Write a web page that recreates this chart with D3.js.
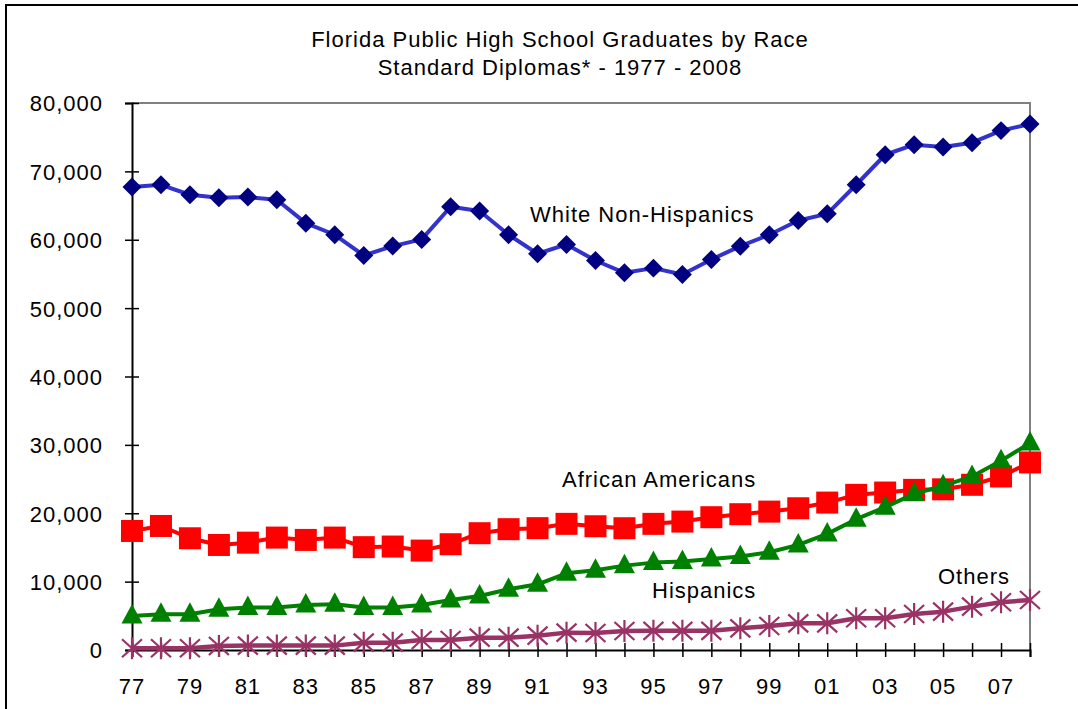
<!DOCTYPE html>
<html>
<head>
<meta charset="utf-8">
<script src="https://cdn.jsdelivr.net/npm/d3@7"></script>
<style>
  body { margin: 0; background: #fff; }
  text { font-family: "Liberation Sans", Arial, sans-serif; fill: #000; letter-spacing: 1px; }
</style>
</head>
<body>
<svg id="chart" width="1078" height="709"></svg>
<script>
// data
var years = d3.range(1977, 2009);
var white = [67700, 68040, 66580, 66140, 66240, 65850, 62430, 60730, 57700, 59070,
  60050, 64830, 64200, 60730, 57950, 59310, 56970, 55160, 55850, 54920,
  57110, 59060, 60730, 62820, 63790, 68040, 72430, 73900, 73560, 74200, 75960, 76930];
var african = [17410, 18140, 16340, 15360, 15700, 16440, 16100, 16440, 15040, 15130,
  14540, 15470, 17080, 17670, 17820, 18450, 18100, 17810, 18450, 18780,
  19420, 19860, 20240, 20730, 21560, 22690, 23030, 23420, 23500, 24160, 25380, 27430];
var hispanic = [4980, 5220, 5220, 5950, 6200, 6200, 6590, 6690, 6200, 6200,
  6590, 7320, 7900, 8880, 9610, 11220, 11650, 12340, 12780, 12930,
  13320, 13660, 14300, 15370, 16980, 19130, 20890, 22840, 24010, 25380, 27670, 30260];
var others = [250, 250, 250, 590, 640, 640, 640, 640, 1070, 1070,
  1460, 1460, 1800, 1800, 2100, 2540, 2490, 2780, 2800, 2800,
  2800, 3170, 3510, 3900, 3900, 4640, 4640, 5270, 5610, 6340, 6980, 7320];
var yTicks = [0, 10000, 20000, 30000, 40000, 50000, 60000, 70000, 80000];
var xLabelYears = d3.range(1977, 2009, 2);

var svg = d3.select("#chart");

// outer chart frame
svg.append("rect")
  .attr("x", 6).attr("y", 5)
  .attr("width", 1100).attr("height", 800)
  .attr("fill", "none").attr("stroke", "#000").attr("stroke-width", 2);

var plotLeft = 132, plotRight = 1030, plotTop = 103, plotBottom = 650;

var x = d3.scaleLinear().domain([1977, 2008]).range([plotLeft, plotRight]);
var y = d3.scaleLinear().domain([0, 80000]).range([plotBottom, plotTop]);

// title
svg.append("text").attr("x", 560).attr("y", 47)
  .attr("text-anchor", "middle").style("font-size", "22px")
  .text("Florida Public High School Graduates by Race");
svg.append("text").attr("x", 560).attr("y", 75)
  .attr("text-anchor", "middle").style("font-size", "22px")
  .text("Standard Diplomas* - 1977 - 2008");

// plot border (top and right in grey)
svg.append("path")
  .attr("d", "M" + plotLeft + "," + plotTop + "H" + plotRight + "V" + plotBottom)
  .attr("fill", "none").attr("stroke", "#808080").attr("stroke-width", 2);

// y axis
var yAxis = svg.append("g")
  .attr("transform", "translate(" + plotLeft + ",0)")
  .call(d3.axisLeft(y).tickValues(yTicks).tickFormat(d3.format(",")).tickSize(7).tickPadding(22));
yAxis.select(".domain").attr("stroke", "#000").attr("stroke-width", 2);
yAxis.selectAll(".tick line").attr("x1", 7).attr("stroke", "#000").attr("stroke-width", 1.5);
yAxis.selectAll(".tick text")
  .style("font-size", "22px").style("font-family", "'Liberation Sans', Arial, sans-serif")
  .attr("fill", "#000").attr("dy", "0.36em");

// x axis
var xAxis = svg.append("g")
  .attr("transform", "translate(0," + plotBottom + ")")
  .call(d3.axisBottom(x).tickValues(years).tickSize(7).tickFormat(""));
xAxis.select(".domain").attr("stroke", "#000").attr("stroke-width", 2);
xAxis.selectAll(".tick line").attr("y1", -7).attr("stroke", "#000").attr("stroke-width", 1.5);

svg.append("g").selectAll("text")
  .data(xLabelYears).enter().append("text")
  .attr("x", function (d) { return x(d); })
  .attr("y", 694)
  .attr("text-anchor", "middle")
  .style("font-size", "22px")
  .text(function (d) { return String(d).slice(2); });

var line = d3.line()
  .x(function (d, i) { return x(years[i]); })
  .y(function (d) { return y(d); });

function drawLine(values, color, width) {
  svg.append("path")
    .datum(values)
    .attr("d", line)
    .attr("fill", "none")
    .attr("stroke", color)
    .attr("stroke-width", width)
    .attr("stroke-linejoin", "round");
}

// White Non-Hispanics
drawLine(white, "#3333CC", 4);
svg.append("g").selectAll("path")
  .data(white).enter().append("path")
  .attr("d", d3.symbol().type(d3.symbolDiamond2).size(230))
  .attr("transform", function (d, i) { return "translate(" + x(years[i]) + "," + y(d) + ")"; })
  .attr("fill", "#000080");

// African Americans
drawLine(african, "#FF0000", 4);
svg.append("g").selectAll("rect")
  .data(african).enter().append("rect")
  .attr("x", function (d, i) { return x(years[i]) - 11; })
  .attr("y", function (d) { return y(d) - 11; })
  .attr("width", 22).attr("height", 22)
  .attr("fill", "#FF0000");

// Hispanics
drawLine(hispanic, "#008000", 4);
svg.append("g").selectAll("path")
  .data(hispanic).enter().append("path")
  .attr("d", "M0,-12L10.5,7.5L-10.5,7.5Z")
  .attr("transform", function (d, i) { return "translate(" + x(years[i]) + "," + y(d) + ")"; })
  .attr("fill", "#008000");

// Others
drawLine(others, "#993366", 4.5);
svg.append("g").selectAll("path")
  .data(others).enter().append("path")
  .attr("d", "M0,-11V11M-10,-9L10,9M-10,9L10,-9")
  .attr("transform", function (d, i) { return "translate(" + x(years[i]) + "," + y(d) + ")"; })
  .attr("stroke", "#993366").attr("stroke-width", 2.2).attr("fill", "none");

// series labels
var labels = [
  { text: "White Non-Hispanics", x: 530, y: 222 },
  { text: "African Americans", x: 562, y: 487 },
  { text: "Hispanics", x: 652, y: 598 },
  { text: "Others", x: 938, y: 584 }
];
svg.append("g").selectAll("text")
  .data(labels).enter().append("text")
  .attr("x", function (d) { return d.x; })
  .attr("y", function (d) { return d.y; })
  .style("font-size", "22px")
  .text(function (d) { return d.text; });
</script>
</body>
</html>
